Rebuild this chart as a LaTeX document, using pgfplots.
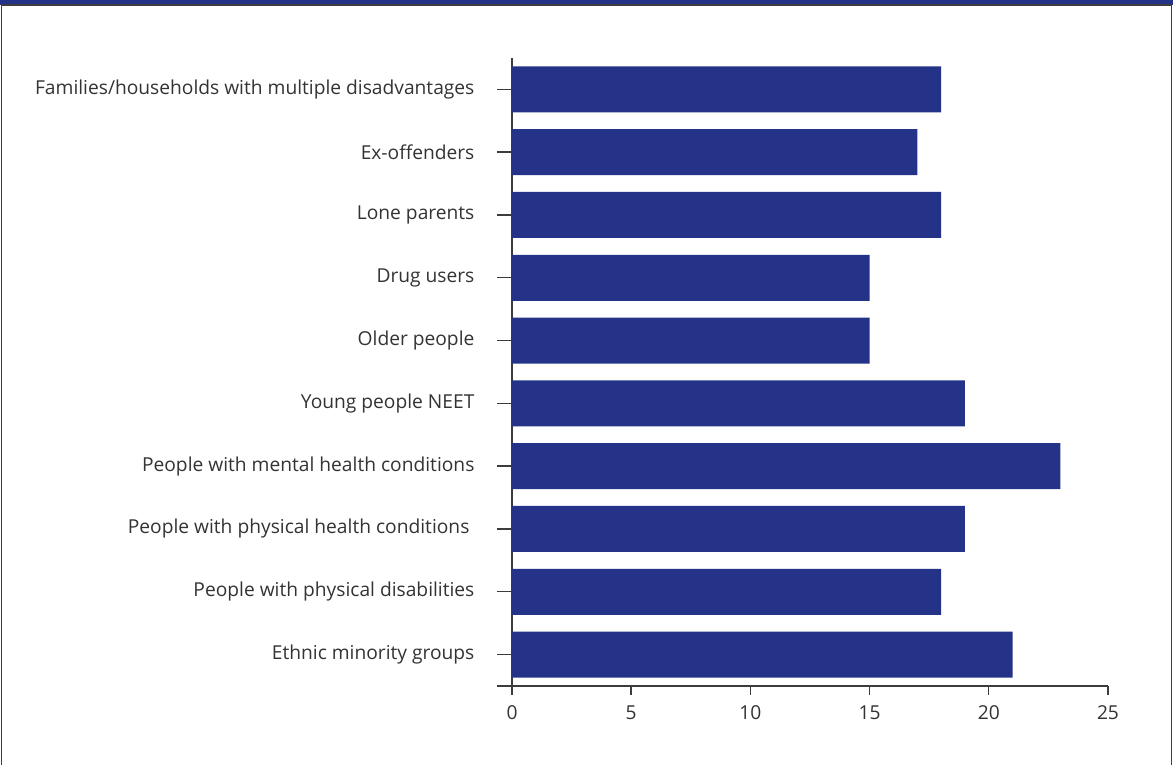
\documentclass[border=0pt]{standalone}
\usepackage{pgfplots}
\pgfplotsset{compat=1.18}
\usepackage{fontspec}
\setmainfont{Open Sans}
\definecolor{barblue}{RGB}{36,50,136}
\definecolor{txt}{RGB}{51,51,51}
\definecolor{axgrey}{RGB}{60,60,60}
\begin{document}
\begin{tikzpicture}
\path[use as bounding box] (-256pt,-39.5pt) rectangle (330.5pt,343pt);
\fill[barblue] (-256pt,340.5pt) rectangle (330.5pt,343pt);
\draw[axgrey,line width=0.8pt] (-255.2pt,-39.5pt) -- (-255.2pt,340.5pt) -- (329.8pt,340.5pt) -- (329.8pt,-39.5pt);
\begin{axis}[
  at={(0,0)}, anchor=south west,
  scale only axis,
  width=298pt, height=314pt,
  xbar, bar width=23pt,
  xmin=0, xmax=25, ymin=-0.5, ymax=9.5,
  axis x line*=bottom, axis y line*=left,
  axis line style={-, axgrey, line width=0.7pt},
  x axis line style={draw=none},
  xtick={0,5,10,15,20,25},
  ytick={0,...,9},
  yticklabels={Ethnic minority groups,People with physical disabilities,People with physical health conditions\kern2.5pt\null,People with mental health conditions,Young people NEET,Older people,Drug users,Lone parents,Ex-offenders,Families/households with multiple disadvantages},
  tick align=outside,
  xtick style={axgrey, line width=0.7pt, /pgfplots/major tick length=4.5pt},
  ytick style={axgrey, line width=0.7pt, /pgfplots/major tick length=7.5pt},
  tick label style={font=\fontsize{9.6}{11}\selectfont, text=txt},
  /pgf/number format/assume math mode=true,
  yticklabel style={xshift=-11pt},
  xticklabel style={yshift=-2pt},
  clip=false,
]
\addplot[fill=barblue, draw=none] coordinates {
(21,0) (18,1) (19,2) (23,3) (19,4) (15,5) (15,6) (18,7) (17,8) (18,9)};
\draw[axgrey, line width=0.7pt] ([xshift=-7.5pt]axis cs:0,-0.5) -- (axis cs:25,-0.5);
\end{axis}
\end{tikzpicture}
\end{document}
